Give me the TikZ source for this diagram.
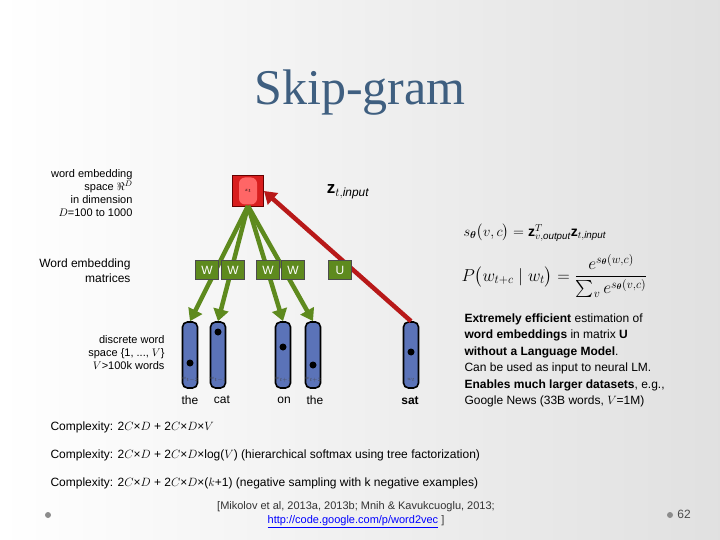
\documentclass[tikz,border=0pt]{standalone}
\usepackage{fontspec}
\setmainfont{Liberation Sans}
\newfontfamily\seriffont{Liberation Serif}
\usepackage{amsmath,amssymb}
\usetikzlibrary{arrows.meta}
\definecolor{titlec}{HTML}{3F5F80}
\definecolor{vecc}{HTML}{5B73B8}
\definecolor{wgreen}{HTML}{5E8A1E}
\definecolor{redc}{HTML}{D81E1E}
\tikzset{
 vec/.style={draw=black,line width=1.6pt,fill=vecc,rounded corners=5pt,minimum width=15pt,minimum height=66pt,inner sep=0pt},
 mat/.style={draw=black!70,line width=1pt,fill=wgreen,text=white,minimum width=23pt,minimum height=19pt,inner sep=0pt,font=\fontsize{12}{12}\selectfont},
 dot/.style={circle,fill=black,inner sep=0pt,minimum size=7pt},
 garr/.style={draw=wgreen,line width=4.5pt,-{Triangle[length=12pt,width=15pt]}},
 rarr/.style={draw=redc!85!black,line width=4.5pt,-{Triangle[length=12pt,width=15pt]}},
 lbl/.style={font=\fontsize{12}{14}\selectfont},
 sml/.style={font=\fontsize{11}{13}\selectfont,align=right,anchor=east},
 tiny/.style={font=\fontsize{4}{4}\selectfont,text=black!70}
}
\begin{document}
\begin{tikzpicture}[x=1pt,y=-1pt]
\useasboundingbox[top color=white,bottom color=white,left color=white,right color=black!12] (0,0) rectangle (720,540);
\node[font=\seriffont\fontsize{50}{52}\selectfont,text=titlec] (title) at (360,93) {Skip-gram};
% left texts
\node[sml] (t1) at (136,193) {word embedding\\space $\Re^D$\\in dimension\\$D$=100 to 1000};
\node[sml,font=\fontsize{12}{15}\selectfont] (t2) at (134,271) {Word embedding\\matrices};
\node[sml] (t3) at (168,353) {discrete word\\space \{1, ..., $V$\}\\$V$>100k words};
% centre node
\node[draw=black!60!red,line width=1pt,fill=redc,minimum size=31pt,inner sep=0pt] (zt) at (248,191) {};
\node[fill=red!60,rounded corners=6pt,minimum width=18pt,minimum height=27pt,inner sep=0pt,font=\fontsize{5}{5}\selectfont] (zin) at (248,191) {$z_t$};
\node[font=\fontsize{17}{18}\selectfont] (zlab) at (348,192) {$\mathbf{z}_{t,\mathit{input}}$};
% vectors
\node[vec] (v1) at (190,355) {};
\node[vec] (v2) at (218,355) {};
\node[vec] (v3) at (283,355) {};
\node[vec] (v4) at (313,355) {};
\node[vec] (v5) at (411,355) {};
\node[dot] (d1) at (190,363) {};
\node[dot] (d2) at (218,332) {};
\node[dot] (d3) at (283,347) {};
\node[dot] (d4) at (313,365) {};
\node[dot] (d5) at (411,352) {};
\node[tiny] (s1) at (190,380) {$w_{t-2}$};
\node[tiny] (s2) at (218,380) {$w_{t-1}$};
\node[tiny] (s3) at (283,380) {$w_{t+1}$};
\node[tiny] (s4) at (313,380) {$w_{t+2}$};
\node[tiny] (s5) at (411,380) {$w_t$};
\node[lbl] (l1) at (190,400) {the};
\node[lbl] (l2) at (222,400) {cat};
\node[lbl] (l3) at (284,400) {on};
\node[lbl] (l4) at (315,400) {the};
\node[lbl,font=\fontsize{12}{14}\selectfont\bfseries] (l5) at (410,401) {sat};
% arrows
\coordinate (zb) at (248,206);
\draw[garr] (zb) -- (v1.north);
\draw[garr] (zb) -- (v2.north);
\draw[garr] (zb) -- (v3.north);
\draw[garr] (zb) -- (v4.north);
\draw[rarr] (v5.north) -- (zt.east);
% matrices
\node[mat] (m1) at (207,270) {W};
\node[mat] (m2) at (233,270) {W};
\node[mat] (m3) at (268,270) {W};
\node[mat] (m4) at (293,270) {W};
\node[mat] (m5) at (340,270) {U};
% formulas
\node[anchor=west,font=\seriffont\fontsize{14}{16}\selectfont] (f1) at (460,233) {$s_{\boldsymbol{\theta}}\bigl(v,c\bigr)=\mathbf{z}^{T}_{v,\mathit{output}}\mathbf{z}_{t,\mathit{input}}$};
\node[anchor=west,font=\fontsize{17}{19}\selectfont] (f2) at (458,276) {$P\bigl(w_{t+c}\mid w_t\bigr)=\dfrac{e^{s_{\boldsymbol{\theta}}(w,c)}}{\sum_{v}e^{s_{\boldsymbol{\theta}}(v,c)}}$};
% right text
\node[anchor=north west,align=left,font=\fontsize{12}{16.5}\selectfont] (rt) at (461,310) {\textbf{Extremely efficient} estimation of\\\textbf{word embeddings} in matrix \textbf{U}\\\textbf{without a Language Model}.\\Can be used as input to neural LM.\\\textbf{Enables much larger datasets}, e.g.,\\Google News (33B words, $V$=1M)};
% complexity
\node[anchor=west,lbl] (c1) at (47,427) {Complexity: 2$C$×$D$ + 2$C$×$D$×$V$};
\node[anchor=west,lbl] (c2) at (47,455) {Complexity: 2$C$×$D$ + 2$C$×$D$×log($V$) (hierarchical softmax using tree factorization)};
\node[anchor=west,lbl] (c3) at (47,483) {Complexity: 2$C$×$D$ + 2$C$×$D$×($k$+1) (negative sampling with k negative examples)};
\node[align=center,font=\fontsize{11}{14}\selectfont,text=black!80] (cite) at (356,515) {[Mikolov et al, 2013a, 2013b; Mnih \& Kavukcuoglu, 2013;\\\textcolor{blue}{\underline{http://code.google.com/p/word2vec}} ]};
\node[circle,fill=black!45,inner sep=0pt,minimum size=6pt] (b1) at (48,515) {};
\node[circle,fill=black!45,inner sep=0pt,minimum size=6pt] (b2) at (670,515) {};
\node[font=\fontsize{12}{14}\selectfont,text=black!70] (pg) at (684,514) {62};
\end{tikzpicture}
\end{document}
